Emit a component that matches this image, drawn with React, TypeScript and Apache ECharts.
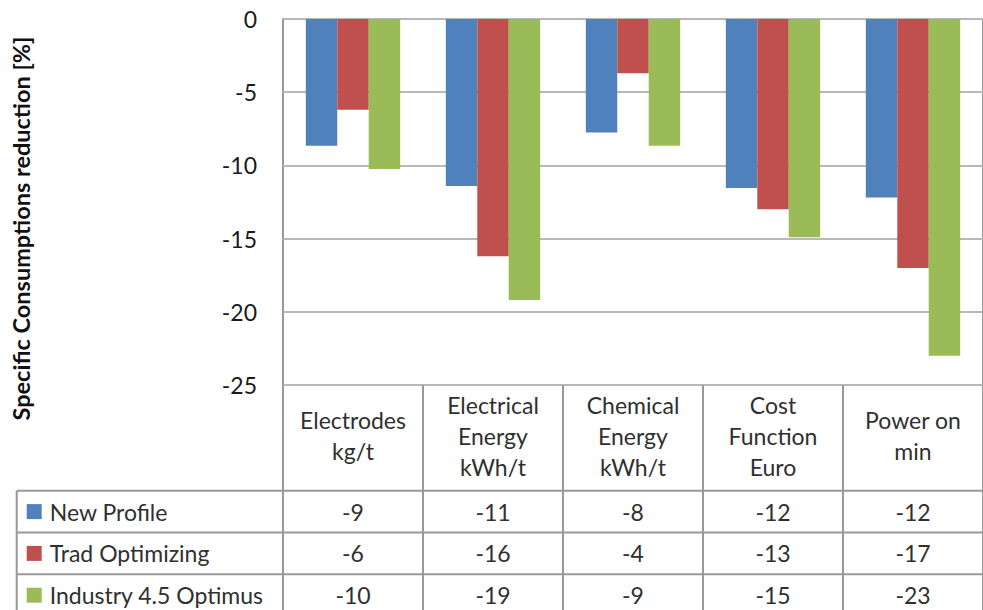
import React, { useEffect, useRef } from "react";
import * as echarts from "echarts";

// ---- data ----
const categories = [
  "Electrodes\nkg/t",
  "Electrical\nEnergy\nkWh/t",
  "Chemical\nEnergy\nkWh/t",
  "Cost\nFunction\nEuro",
  "Power on\nmin",
];
const seriesNames = ["New Profile", "Trad Optimizing", "Industry 4.5 Optimus"];
const newProfile = [-8.65, -11.4, -7.75, -11.55, -12.2];
const tradOptimizing = [-6.2, -16.2, -3.7, -13.0, -17.0];
const industryOptimus = [-10.25, -19.2, -8.65, -14.9, -23.0];
const tableNewProfile = ["-9", "-11", "-8", "-12", "-12"];
const tableTradOptimizing = ["-6", "-16", "-4", "-13", "-17"];
const tableIndustryOptimus = ["-10", "-19", "-9", "-15", "-23"];
const yMin = -25;
const yMax = 0;
const yInterval = 5;
const yAxisTitle = "Specific Consumptions reduction [%]";

const colors = ["#4F81BD", "#C0504D", "#9BBB59"];
const FONT = "Lato, 'Open Sans', sans-serif";
const LINE = "#999999";
const TEXT = "#303030";

export default function App() {
  const ref = useRef<HTMLDivElement>(null);
  useEffect(() => {
    document.body.style.margin = "0";
    if (!ref.current) return;
    const chart = echarts.init(ref.current, undefined, { renderer: "svg" });

    const gridLeft = 283;
    const gridTop = 19;
    const gridHeight = 366;
    const gridWidth = 705;
    const tableTop = gridTop + gridHeight; // 385
    const headerBottom = 490.7;
    const rowH = 41.8;
    const legendItemH = 23;

    const rowAxis = (data: string[], rowIndex: number) => ({
      type: "category",
      position: "bottom",
      data,
      boundaryGap: true,
      axisLine: { show: false },
      axisTick: { show: false },
      splitLine: { show: false },
      axisLabel: {
        interval: 0,
        margin: headerBottom + rowH * (rowIndex + 0.5) - tableTop,
        verticalAlign: "middle",
        fontFamily: FONT,
        fontSize: 23,
        color: TEXT,
      },
    });

    const option: any = {
      animation: false,
      backgroundColor: "#ffffff",
      textStyle: { fontFamily: FONT },
      color: colors,
      grid: {
        left: gridLeft,
        top: gridTop,
        width: gridWidth,
        height: gridHeight,
        show: true,
        borderColor: LINE,
        borderWidth: 2,
        backgroundColor: "transparent",
      },
      legend: {
        orient: "vertical",
        left: 26.7,
        top: headerBottom + rowH / 2 - legendItemH / 2,
        height: 200,
        padding: 0,
        itemWidth: 15,
        itemHeight: 15,
        itemGap: rowH - legendItemH,
        icon: "rect",
        selectedMode: false,
        data: seriesNames,
        textStyle: {
          fontFamily: FONT,
          fontSize: 23,
          color: TEXT,
          padding: [0, 0, 0, 3],
        },
      },
      xAxis: [
        {
          type: "category",
          position: "top",
          data: categories,
          axisLine: { show: false },
          axisTick: { show: false },
          axisLabel: { show: false },
          splitLine: { show: false },
        },
        {
          type: "category",
          position: "bottom",
          data: categories,
          boundaryGap: true,
          axisLine: { show: false },
          axisTick: {
            show: true,
            length: 240,
            lineStyle: { color: LINE, width: 2 },
          },
          axisLabel: {
            interval: 0,
            margin: (tableTop + headerBottom) / 2 - tableTop - 2,
            verticalAlign: "middle",
            lineHeight: 31,
            fontFamily: FONT,
            fontSize: 23,
            color: TEXT,
          },
        },
        rowAxis(tableNewProfile, 0),
        rowAxis(tableTradOptimizing, 1),
        rowAxis(tableIndustryOptimus, 2),
      ],
      yAxis: {
        type: "value",
        min: yMin,
        max: yMax,
        interval: yInterval,
        axisLine: { show: false },
        axisTick: { show: false },
        splitLine: { show: true, lineStyle: { color: "#b8b8b8", width: 2 } },
        axisLabel: {
          margin: 26,
          fontFamily: FONT,
          fontSize: 23,
          color: "#1a1a1a",
        },
      },
      series: [
        { name: seriesNames[0], type: "bar", data: newProfile },
        { name: seriesNames[1], type: "bar", data: tradOptimizing },
        { name: seriesNames[2], type: "bar", data: industryOptimus },
      ].map((s) => ({
        ...s,
        xAxisIndex: 0,
        barGap: "0%",
        barCategoryGap: "32.6%",
      })),
      graphic: [
        {
          type: "text",
          x: 21,
          y: 228.5,
          rotation: Math.PI / 2,
          style: {
            text: yAxisTitle,
            fontFamily: FONT,
            fontSize: 23.5,
            fontWeight: "bold",
            fill: "#111111",
            align: "center",
            verticalAlign: "middle",
          },
        },
        ...[0, 1, 2].map((i) => ({
          type: "line",
          shape: {
            x1: 16.7,
            y1: headerBottom + rowH * i,
            x2: 983,
            y2: headerBottom + rowH * i,
          },
          style: { stroke: LINE, lineWidth: 2 },
        })),
        {
          type: "line",
          shape: { x1: 16.7, y1: headerBottom, x2: 16.7, y2: 620 },
          style: { stroke: LINE, lineWidth: 2 },
        },
      ],
    };
    chart.setOption(option);
    return () => chart.dispose();
  }, []);
  return <div ref={ref} style={{ width: 983, height: 610 }} />;
}
